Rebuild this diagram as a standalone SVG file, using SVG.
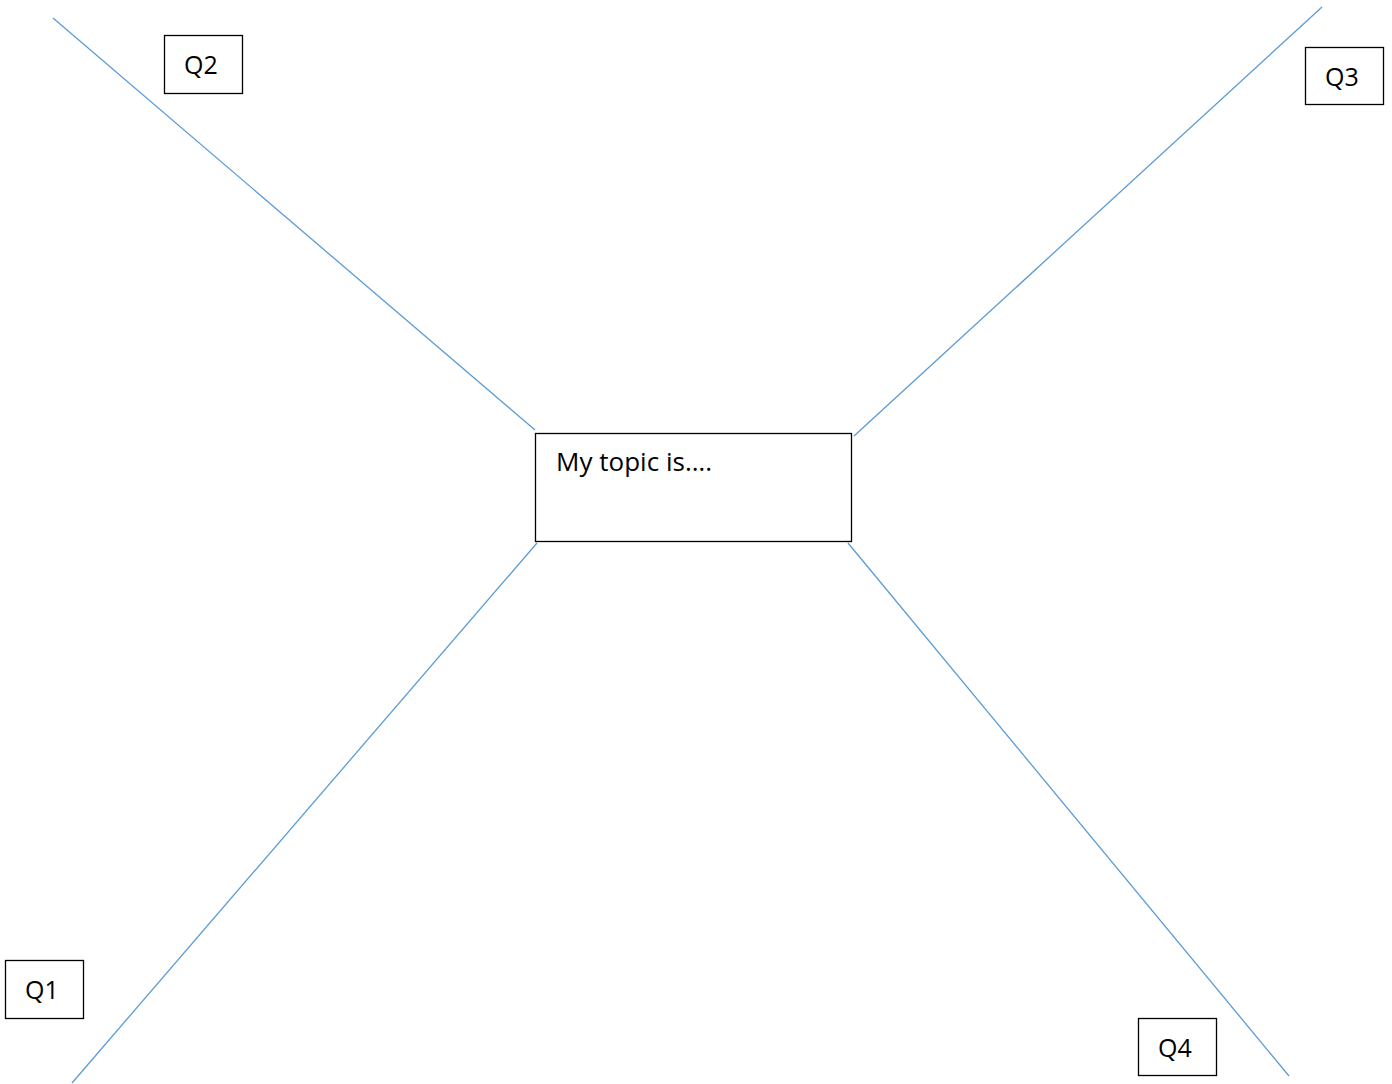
<svg xmlns="http://www.w3.org/2000/svg" width="1392" height="1084" viewBox="0 0 1392 1084">
<style>
.box{fill:#fff;stroke:#000;stroke-width:1.3}
.lbl{font-family:"Open Sans","Liberation Sans",sans-serif;font-size:25px;fill:#000}
.conn{stroke:#5b9bd5;stroke-width:1.3;fill:none}
</style>
<rect width="1392" height="1084" fill="#fff"/>
<g id="connectors">
<line class="conn" x1="53" y1="18" x2="535" y2="430"/>
<line class="conn" x1="1322" y1="7" x2="854" y2="436"/>
<line class="conn" x1="537" y1="543" x2="72" y2="1083"/>
<line class="conn" x1="848" y1="543" x2="1289" y2="1076"/>
</g>
<g id="topic">
<rect class="box" x="535.5" y="433.5" width="316" height="108"/>
<text class="lbl" x="556" y="471" style="font-size:26px" textLength="156" lengthAdjust="spacing">My topic is….</text>
</g>
<g id="q2">
<rect class="box" x="164.5" y="35.5" width="78" height="58"/>
<text class="lbl" x="184" y="74">Q2</text>
</g>
<g id="q3">
<rect class="box" x="1305.5" y="47.5" width="78" height="57"/>
<text class="lbl" x="1325" y="86">Q3</text>
</g>
<g id="q1">
<rect class="box" x="5.5" y="960.5" width="78" height="58"/>
<text class="lbl" x="25" y="999">Q1</text>
</g>
<g id="q4">
<rect class="box" x="1138.5" y="1018.5" width="78" height="57"/>
<text class="lbl" x="1158" y="1057">Q4</text>
</g>
</svg>
